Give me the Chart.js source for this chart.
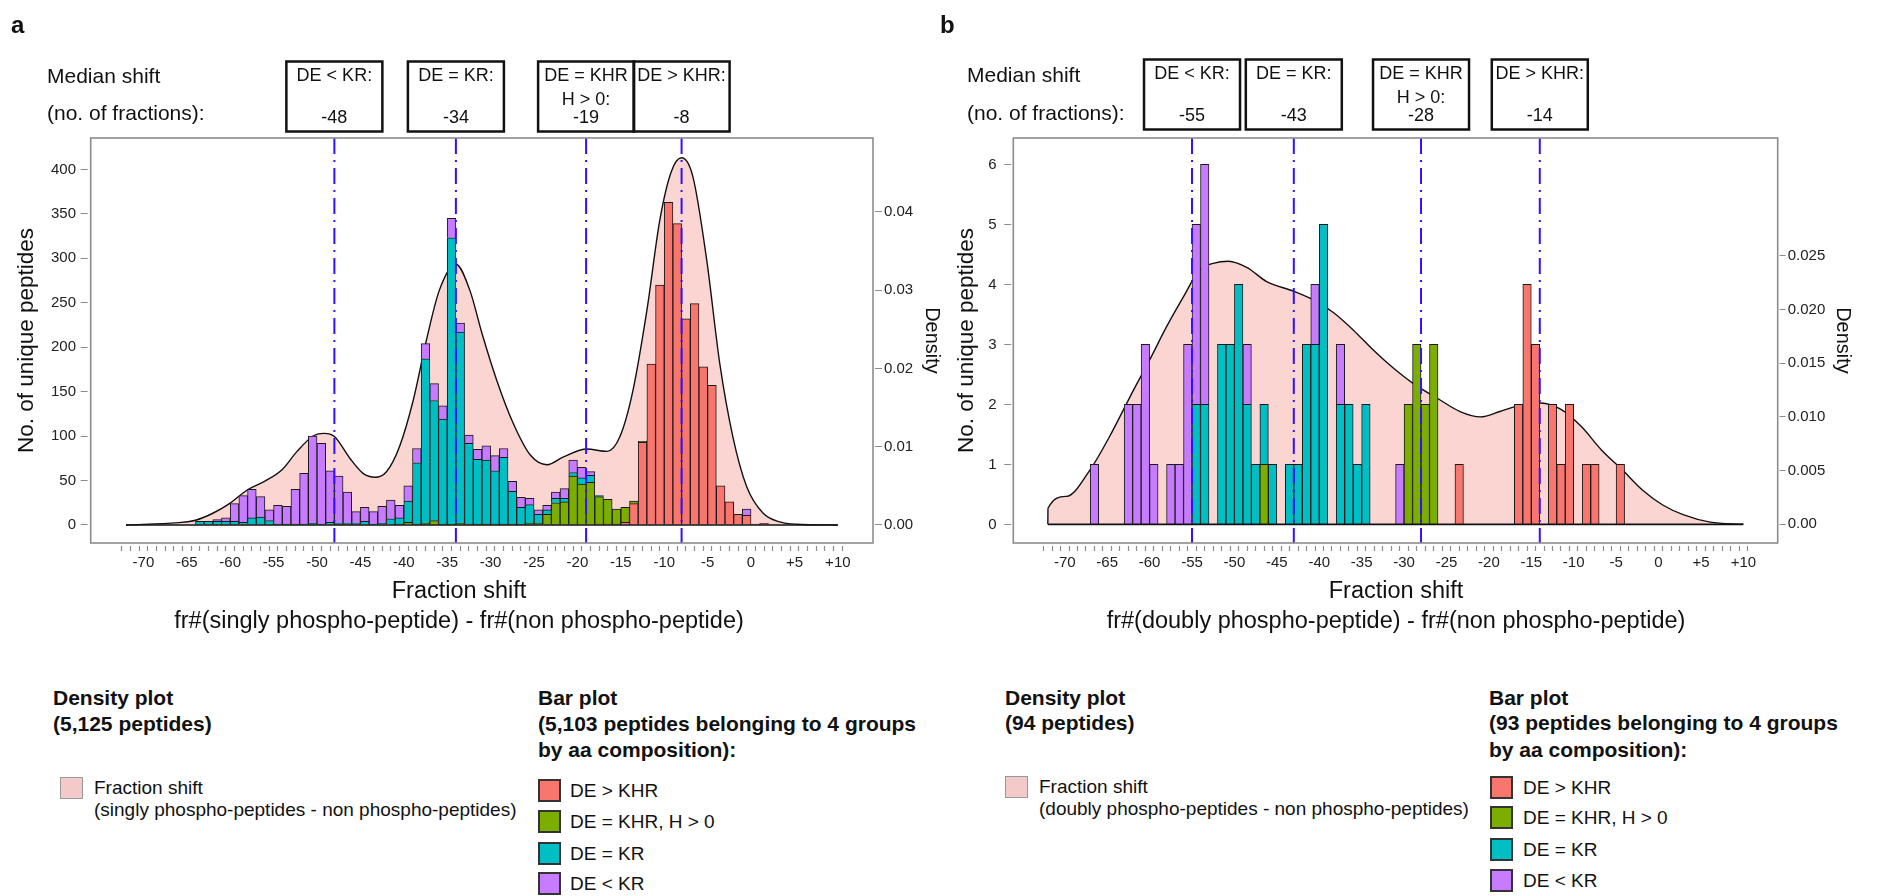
<!DOCTYPE html>
<html>
<head>
<meta charset="utf-8">
<script src="https://cdn.jsdelivr.net/npm/chart.js@4.4.1/dist/chart.umd.min.js"></script>
<style>
  body { margin: 0; background: #fff; }
  #page { position: relative; width: 1877px; height: 896px; overflow: hidden;
          font-family: "Liberation Sans", Arial, Helvetica, sans-serif; color: #111; }
  canvas { position: absolute; top: 0; }
  .t { position: absolute; white-space: nowrap; line-height: 1.2; transform: translateY(-50%); }
  .c { transform: translate(-50%, -50%); }
  .b { font-weight: bold; }
  .sw { position: absolute; box-sizing: border-box; }
</style>
</head>
<body>
<div id="page">
  <canvas id="chartA" width="950" height="660" style="left:0px"></canvas>
  <canvas id="chartB" width="927" height="660" style="left:950px"></canvas>

  <!-- panel a texts -->
  <div class="t b" style="left:11px;top:25px;font-size:24px">a</div>
  <div class="t" style="left:47px;top:76px;font-size:21px">Median shift</div>
  <div class="t" style="left:47px;top:113px;font-size:21px">(no. of fractions):</div>
  <div class="t c" style="left:459px;top:590px;font-size:23.5px">Fraction shift</div>
  <div class="t c" style="left:459px;top:620px;font-size:23.5px">fr#(singly phospho-peptide) - fr#(non phospho-peptide)</div>

  <div class="t b" style="left:53px;top:698px;font-size:21px">Density plot</div>
  <div class="t b" style="left:53px;top:724px;font-size:21px">(5,125 peptides)</div>
  <div class="sw" style="left:60px;top:777px;width:23px;height:22px;background:#f4cac8;border:1.5px solid #999"></div>
  <div class="t" style="left:94px;top:788px;font-size:19px">Fraction shift</div>
  <div class="t" style="left:94px;top:810px;font-size:19px">(singly phospho-peptides - non phospho-peptides)</div>

  <div class="t b" style="left:538px;top:698px;font-size:21px">Bar plot</div>
  <div class="t b" style="left:538px;top:724px;font-size:21px">(5,103 peptides belonging to 4 groups</div>
  <div class="t b" style="left:538px;top:750px;font-size:21px">by aa composition):</div>
  <div id="legA"></div>

  <!-- panel b texts -->
  <div class="t b" style="left:940px;top:25px;font-size:24px">b</div>
  <div class="t" style="left:967px;top:75px;font-size:21px">Median shift</div>
  <div class="t" style="left:967px;top:113px;font-size:21px">(no. of fractions):</div>
  <div class="t c" style="left:1396px;top:590px;font-size:23.5px">Fraction shift</div>
  <div class="t c" style="left:1396px;top:620px;font-size:23.5px">fr#(doubly phospho-peptide) - fr#(non phospho-peptide)</div>

  <div class="t b" style="left:1005px;top:698px;font-size:21px">Density plot</div>
  <div class="t b" style="left:1005px;top:723px;font-size:21px">(94 peptides)</div>
  <div class="sw" style="left:1005px;top:776px;width:23px;height:22px;background:#f4cac8;border:1.5px solid #999"></div>
  <div class="t" style="left:1039px;top:787px;font-size:19px">Fraction shift</div>
  <div class="t" style="left:1039px;top:809px;font-size:19px">(doubly phospho-peptides - non phospho-peptides)</div>

  <div class="t b" style="left:1489px;top:698px;font-size:21px">Bar plot</div>
  <div class="t b" style="left:1489px;top:723px;font-size:21px">(93 peptides belonging to 4 groups</div>
  <div class="t b" style="left:1489px;top:750px;font-size:21px">by aa composition):</div>
  <div id="legB"></div>
</div>

<script>
// histogram bins (lower edge, width 1 fraction)
const bins = [
  -72, -71, -70, -69, -68, -67, -66, -65, -64, -63,
  -62, -61, -60, -59, -58, -57, -56, -55, -54, -53,
  -52, -51, -50, -49, -48, -47, -46, -45, -44, -43,
  -42, -41, -40, -39, -38, -37, -36, -35, -34, -33,
  -32, -31, -30, -29, -28, -27, -26, -25, -24, -23,
  -22, -21, -20, -19, -18, -17, -16, -15, -14, -13,
  -12, -11, -10, -9, -8, -7, -6, -5, -4, -3,
  -2, -1, 0, 1, 2, 3, 4, 5, 6, 7,
  8, 9
];

// panel a: singly phospho-peptides
const redA = [
  0, 0, 0, 0, 0, 0, 0, 0, 0, 0,
  0, 0, 0, 0, 0, 0, 0, 0, 0, 0,
  0, 0, 0, 0, 0, 0, 0, 0, 0, 0,
  0, 0, 0, 0, 0, 0, 0, 0, 0, 0,
  0, 0, 0, 0, 0, 0, 0, 0, 0, 0,
  0, 0, 0, 0, 1, 1, 1, 3, 24, 93,
  181, 270, 363, 339, 232, 249, 178, 157, 44, 26,
  12, 11, 1, 2, 0, 0, 0, 0, 0, 0,
  0, 0
];
const greenA = [
  0, 0, 0, 0, 0, 0, 0, 0, 0, 0,
  0, 0, 0, 0, 0, 0, 0, 0, 0, 0,
  0, 0, 0, 0, 1, 1, 1, 0, 0, 0,
  0, 1, 3, 1, 2, 5, 1, 1, 2, 1,
  1, 1, 1, 1, 1, 1, 2, 2, 12, 25,
  26, 55, 46, 48, 31, 28, 17, 17, 3, 1,
  0, 0, 0, 0, 0, 0, 0, 0, 0, 0,
  0, 0, 0, 0, 0, 0, 0, 0, 0, 0,
  0, 0
];
const cyanA = [
  0, 0, 0, 0, 0, 0, 0, 0, 4, 4,
  4, 4, 4, 3, 8, 9, 5, 1, 1, 1,
  1, 2, 1, 3, 1, 1, 1, 4, 1, 2,
  7, 7, 24, 69, 185, 135, 118, 322, 215, 91,
  73, 72, 60, 75, 37, 19, 21, 10, 5, 5,
  4, 4, 7, 8, 1, 0, 0, 0, 0, 0,
  0, 0, 0, 0, 0, 0, 0, 0, 0, 0,
  0, 0, 0, 0, 0, 0, 0, 0, 0, 0,
  0, 0
];
const purpleA = [
  0, 0, 0, 0, 0, 0, 0, 0, 0, 0,
  2, 4, 20, 30, 32, 23, 12, 21, 20, 39,
  57, 98, 91, 58, 53, 35, 13, 16, 14, 19,
  21, 14, 17, 16, 17, 19, 15, 22, 10, 9,
  11, 16, 17, 10, 11, 11, 7, 5, 5, 7,
  11, 14, 12, 4, 0, 0, 0, 0, 0, 0,
  0, 0, 0, 0, 0, 0, 0, 0, 0, 0,
  0, 7, 0, 0, 0, 0, 0, 0, 0, 0,
  0, 0
];
const densAx = [-72, -66, -64, -62, -60, -58, -56, -54, -52.3, -50.4, -49.2, -48, -46.2, -44.7, -43.3, -42,
  -40.5, -38.9, -37.4, -35.9, -34, -32.4, -31, -29.3, -27.4, -25.4, -23.5, -21.6, -18.9, -16.6, -15.1,
  -13.6, -12, -10.5, -9.2, -8, -6.7, -5.1, -3.6, -2.1, -0.5, 1.4, 3.3, 5.2, 10];
const densAy = [0, 0.0003, 0.0006, 0.0015, 0.0028, 0.0045, 0.0056, 0.0071, 0.0094, 0.0114, 0.0117, 0.0113, 0.0085, 0.0066, 0.0061, 0.0068,
  0.0100, 0.0160, 0.0236, 0.0300, 0.0333, 0.0300, 0.0245, 0.0185, 0.0130, 0.0089, 0.0077, 0.0087, 0.0097, 0.0094, 0.0113,
  0.0172, 0.0274, 0.0390, 0.0451, 0.0469, 0.0445, 0.0338, 0.0206, 0.0113, 0.0049, 0.0015, 0.0004, 0.0001, 0];
const mediansA = [-48, -34, -19, -8];

// panel b: doubly phospho-peptides
const redB = [
  0, 0, 0, 0, 0, 0, 0, 0, 0, 0,
  0, 0, 0, 0, 0, 0, 0, 0, 0, 0,
  0, 0, 0, 0, 0, 0, 0, 0, 0, 0,
  0, 0, 0, 0, 0, 0, 0, 0, 0, 0,
  0, 0, 0, 0, 0, 0, 0, 0, 1, 0,
  0, 0, 0, 0, 0, 2, 4, 3, 0, 2,
  1, 2, 0, 1, 1, 0, 0, 1, 0, 0,
  0, 0, 0, 0, 0, 0, 0, 0, 0, 0,
  0, 0
];
const greenB = [
  0, 0, 0, 0, 0, 0, 0, 0, 0, 0,
  0, 0, 0, 0, 0, 0, 0, 0, 0, 0,
  0, 0, 0, 0, 0, 1, 0, 0, 0, 0,
  0, 0, 0, 0, 0, 0, 0, 0, 0, 0,
  0, 0, 2, 3, 2, 3, 0, 0, 0, 0,
  0, 0, 0, 0, 0, 0, 0, 0, 0, 0,
  0, 0, 0, 0, 0, 0, 0, 0, 0, 0,
  0, 0, 0, 0, 0, 0, 0, 0, 0, 0,
  0, 0
];
const cyanB = [
  0, 0, 0, 0, 0, 0, 0, 0, 0, 0,
  0, 0, 0, 0, 0, 0, 0, 2, 2, 0,
  3, 3, 4, 2, 1, 1, 1, 0, 1, 1,
  3, 3, 5, 0, 2, 2, 1, 2, 0, 0,
  0, 0, 0, 0, 0, 0, 0, 0, 0, 0,
  0, 0, 0, 0, 0, 0, 0, 0, 0, 0,
  0, 0, 0, 0, 0, 0, 0, 0, 0, 0,
  0, 0, 0, 0, 0, 0, 0, 0, 0, 0,
  0, 0
];
const purpleB = [
  0, 0, 0, 0, 0, 1, 0, 0, 0, 2,
  2, 3, 1, 0, 1, 1, 3, 3, 4, 0,
  0, 0, 0, 1, 0, 0, 0, 0, 0, 0,
  0, 1, 0, 0, 1, 0, 0, 0, 0, 0,
  0, 1, 0, 0, 0, 0, 0, 0, 0, 0,
  0, 0, 0, 0, 0, 0, 0, 0, 0, 0,
  0, 0, 0, 0, 0, 0, 0, 0, 0, 0,
  0, 0, 0, 0, 0, 0, 0, 0, 0, 0,
  0, 0
];
const densBx = [-72, -71.98, -69.8, -67, -64.7, -61.9, -60, -58, -56, -54.1, -52.5, -50.7, -48.5, -46.2, -43,
  -40.7, -38.3, -36, -33.6, -31.2, -28.9, -25.8, -23.4, -21, -18.7, -16.3, -13.9, -11.5, -9.1, -6.7,
  -4.3, -1.9, 0.5, 2.9, 6.1, 10];
const densBy = [0, 0.0015, 0.0026, 0.0051, 0.0082, 0.0125, 0.0153, 0.0184, 0.0212, 0.0237, 0.0243, 0.0245, 0.0239, 0.0226, 0.0217,
  0.0209, 0.0197, 0.0181, 0.0162, 0.0145, 0.0131, 0.0116, 0.0105, 0.0100, 0.0105, 0.0111, 0.0113, 0.0107, 0.0091, 0.0069,
  0.0051, 0.0032, 0.0018, 0.0009, 0.0002, 0];
const mediansB = [-55, -43, -28, -14];

// groups and ticks
const groupNames = ['DE > KHR', 'DE = KHR, H > 0', 'DE = KR', 'DE < KR'];
const groupColors = ['#f8766d', '#7cae00', '#00bfc4', '#c77cff'];
const boxLabels = [['DE < KR:'], ['DE = KR:'], ['DE = KHR', 'H > 0:'], ['DE > KHR:']];
const xTickLabels = [-70, -65, -60, -55, -50, -45, -40, -35, -30, -25, -20, -15, -10, -5, 0, 5, 10];
const yTicksA = [0, 50, 100, 150, 200, 250, 300, 350, 400];
const y2TicksA = [0, 0.01, 0.02, 0.03, 0.04];
const yTicksB = [0, 1, 2, 3, 4, 5, 6];
const y2TicksB = [0, 0.005, 0.01, 0.015, 0.02, 0.025];

Chart.defaults.font.family = '"Liberation Sans", Arial, Helvetica, sans-serif';
Chart.defaults.color = '#222';

// frame, density baseline, median lines and the boxes above them
const decor = {
  id: 'decor',
  afterDatasetsDraw(chart, args, o) {
    const {ctx, chartArea: a} = chart;
    const x = chart.scales.x, y = chart.scales.y;
    ctx.save();
    const y0 = y.getPixelForValue(0);
    ctx.strokeStyle = '#111';
    ctx.lineWidth = 1.6;
    ctx.beginPath();
    ctx.moveTo(x.getPixelForValue(o.from), y0);
    ctx.lineTo(x.getPixelForValue(o.to), y0);
    ctx.stroke();

    ctx.strokeStyle = '#3311ff';
    ctx.lineWidth = 2;
    ctx.setLineDash([16, 6, 2, 6]);
    o.medians.forEach(m => {
      const px = x.getPixelForValue(m);
      ctx.beginPath();
      ctx.moveTo(px, a.top);
      ctx.lineTo(px, a.bottom);
      ctx.stroke();
    });
    ctx.setLineDash([]);

    ctx.strokeStyle = '#8c8c8c';
    ctx.lineWidth = 1.6;
    ctx.strokeRect(a.left, a.top, a.right - a.left, a.bottom - a.top);

    ctx.font = '18px "Liberation Sans", Arial, sans-serif';
    ctx.fillStyle = '#111';
    ctx.textAlign = 'center';
    ctx.textBaseline = 'middle';
    o.medians.forEach((m, i) => {
      const px = x.getPixelForValue(m);
      ctx.strokeStyle = '#111';
      ctx.lineWidth = 2.5;
      ctx.strokeRect(px - 48, o.boxTop, 96, 70);
      const lines = boxLabels[i];
      ctx.fillText(lines[0], px, o.boxTop + 15);
      if (lines[1]) ctx.fillText(lines[1], px, o.boxTop + 39);
      ctx.fillText(String(m), px, o.boxTop + 57);
    });
    ctx.restore();
  }
};

function makePanel(id, p) {
  const datasets = p.series.map((vals, k) => ({
    type: 'bar',
    label: groupNames[k],
    stack: 'bins',
    order: 0,
    yAxisID: 'y',
    data: bins.map((b, i) => ({x: b + 0.5, y: vals[i]})),
    backgroundColor: groupColors[k],
    borderColor: '#1a1a1a',
    borderWidth: 1,
    barPercentage: 1,
    categoryPercentage: 1
  }));
  datasets.push({
    type: 'line',
    label: 'density',
    order: 1,
    yAxisID: 'y2',
    data: p.densX.map((v, i) => ({x: v, y: p.densY[i]})),
    borderColor: '#111',
    borderWidth: 1.4,
    backgroundColor: '#fbd5d2',
    fill: 'origin',
    pointRadius: 0,
    cubicInterpolationMode: 'monotone'
  });

  const tickGrid = (len, gap, tl) => ({
    drawOnChartArea: false, drawTicks: true, tickLength: tl,
    tickColor: '#8c8c8c', tickWidth: 1.2, tickBorderDash: [0, gap, len, 200]
  });

  return new Chart(document.getElementById(id), {
    type: 'bar',
    data: {datasets},
    plugins: [decor],
    options: {
      responsive: false,
      animation: false,
      layout: {padding: {top: 138, left: 0, right: 0, bottom: 0}},
      plugins: {
        legend: {display: false},
        tooltip: {enabled: false},
        decor: {medians: p.medians, boxTop: p.boxTop, from: p.densX[0], to: p.densX[p.densX.length - 1]}
      },
      scales: {
        x: {
          type: 'linear', min: -76.07, max: 14.05, offset: false, stacked: true,
          afterBuildTicks: s => { s.ticks = bins.concat([10]).map(v => ({value: v})); },
          afterFit: s => { s.height = 117; },
          grid: tickGrid(5, 3, 11),
          border: {display: false},
          ticks: {
            autoSkip: false, maxRotation: 0, minRotation: 0, padding: 0,
            font: {size: 15},
            callback: v => xTickLabels.includes(v) ? (v > 0 ? '+' + v : String(v)) : ''
          }
        },
        y: {
          position: 'left', min: p.yMin, max: p.yMax, stacked: true,
          afterBuildTicks: s => { s.ticks = p.yTicks.map(v => ({value: v})); },
          afterFit: s => { s.width = p.leftW; },
          grid: tickGrid(7, p.leftGap, p.leftTL),
          border: {display: false},
          ticks: {padding: p.leftPad, font: {size: 15}},
          title: {display: true, text: 'No. of unique peptides', color: '#111',
                  font: {size: 22.5}, padding: {top: p.leftTitlePad, bottom: 0}}
        },
        y2: {
          position: 'right', min: p.y2Min, max: p.y2Max,
          afterBuildTicks: s => { s.ticks = p.y2Ticks.map(v => ({value: v})); },
          afterFit: s => { s.width = p.rightW; },
          grid: tickGrid(p.rightLen, p.rightGap, p.rightTL),
          border: {display: false},
          ticks: {padding: p.rightPad, font: {size: 15}, callback: p.y2Fmt},
          title: {display: true, text: 'Density', color: '#111',
                  font: {size: 20}, padding: {top: p.rightTitlePad, bottom: 0}}
        }
      }
    }
  });
}

makePanel('chartA', {
  series: [redA, greenA, cyanA, purpleA], densX: densAx, densY: densAy, medians: mediansA,
  boxTop: 61.5, yMin: -20.25, yMax: 435.3, y2Min: -0.0023, y2Max: 0.04943,
  yTicks: yTicksA, y2Ticks: y2TicksA, y2Fmt: v => v.toFixed(2),
  leftW: 90.7, leftGap: 3, leftTL: 13, leftPad: 1.7, leftTitlePad: 13.5,
  rightW: 77, rightLen: 7, rightGap: 2, rightTL: 11, rightPad: 0, rightTitlePad: 6
});

makePanel('chartB', {
  series: [redB, greenB, cyanB, purpleB], densX: densBx, densY: densBy, medians: mediansB,
  boxTop: 59.5, yMin: -0.31, yMax: 6.44, y2Min: -0.00174, y2Max: 0.03597,
  yTicks: yTicksB, y2Ticks: y2TicksB, y2Fmt: v => v === 0 ? '0.00' : v.toFixed(3),
  leftW: 63.3, leftGap: 2, leftTL: 11, leftPad: 5.6, leftTitlePad: 3.5,
  rightW: 99.3, rightLen: 6, rightGap: 1.5, rightTL: 9, rightPad: 1, rightTitlePad: 22
});

// bar plot legends
function legend(elId, left, tops, textLeft) {
  const el = document.getElementById(elId);
  groupNames.forEach((name, k) => {
    const sw = document.createElement('div');
    sw.className = 'sw';
    sw.style.cssText = `left:${left}px;top:${tops[k]}px;width:23px;height:23px;background:${groupColors[k]};border:2px solid #333`;
    el.appendChild(sw);
    const t = document.createElement('div');
    t.className = 't';
    t.style.cssText = `left:${textLeft}px;top:${tops[k] + 11.5}px;font-size:19px`;
    t.textContent = name;
    el.appendChild(t);
  });
}
legend('legA', 538, [779, 810, 842, 872], 570);
legend('legB', 1490, [776, 806, 838, 869], 1523);
</script>
</body>
</html>
